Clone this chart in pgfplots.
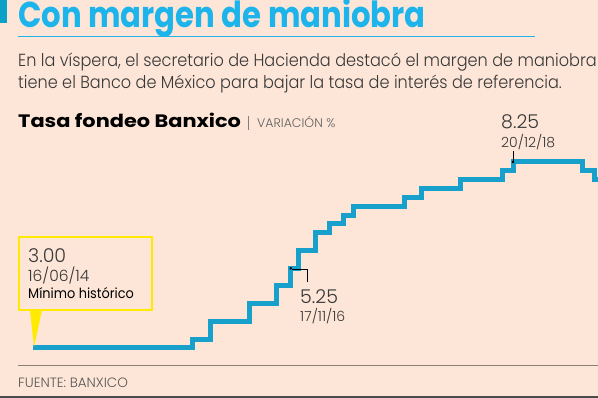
\documentclass[border=0pt]{standalone}
\usepackage{pgfplots}
\pgfplotsset{compat=1.18}
\usepackage{fontspec}
\setmainfont{Poppins}
\newfontfamily\light{Poppins Light}
\definecolor{bg}{HTML}{FDE6D8}
\definecolor{titc}{HTML}{1CB4EA}
\definecolor{barc}{HTML}{0BA0C8}
\definecolor{linec}{HTML}{18A0CC}
\definecolor{txt}{HTML}{383838}
\definecolor{yel}{HTML}{FFEA00}
\begin{document}
\begin{tikzpicture}[x=1pt,y=1pt]
\fill[bg] (0,0) rectangle (598,398);
\clip (0,0) rectangle (598,398);
% header
\fill[barc] (0,398) rectangle (7,375);
\node[anchor=base west,inner sep=0,text=titc,font=\bfseries\fontsize{36}{36}\selectfont] at (18,398-28) {\scalebox{0.853}[1]{Con margen de maniobra}};
\draw[titc,line width=1pt] (18,398-37) -- (535,398-37);
\node[anchor=base west,inner sep=0,text=txt,font=\light\fontsize{17.5}{17.5}\selectfont] at (18,398-67) {\scalebox{0.92}[1]{En la víspera, el secretario de Hacienda destacó el margen de maniobra que}};
\node[anchor=base west,inner sep=0,text=txt,font=\light\fontsize{17.5}{17.5}\selectfont] at (18,398-89) {\scalebox{0.92}[1]{tiene el Banco de México para bajar la tasa de interés de referencia.}};
\node[anchor=base west,inner sep=0,text=black,font=\bfseries\fontsize{18}{18}\selectfont] at (18,398-128) {\scalebox{1.16}[1]{Tasa fondeo Banxico}};
\draw[gray,line width=0.6pt] (248,398-116) -- (248,398-130);
\node[anchor=base west,inner sep=0,text=txt!80,font=\light\fontsize{12.5}{12.5}\selectfont] at (257,398-128) {VARIACIÓN \%};
% chart
\begin{axis}[at={(18pt,38pt)},anchor=south west,scale only axis,
  width=580pt,height=260pt,
  xmin=-51.5,xmax=1939.8,ymin=2.661,ymax=10.0,
  axis lines=none,clip=true]
\addplot[const plot,linec,line width=5pt,line join=miter] coordinates {
(0,3.00) (549,3.25) (611,3.75) (745,4.25) (836,4.75) (885,5.25) (913,5.75)
(969,6.25) (1018,6.50) (1067,6.75) (1102,7.00) (1277,7.25) (1333,7.50)
(1466,7.75) (1613,8.00) (1648,8.25) (1886,8.00) (1928,7.75) (1990,7.75)};
\addplot[only marks,mark=*,mark size=1pt,black] coordinates {(885,5.25) (1648,8.25)};
\end{axis}
% annotations
\draw[black,line width=0.5pt] (292,398-269) -- (307,398-269) -- (307,398-282);
\draw[black,line width=0.5pt] (513,398-163) -- (513,398-151);
\node[anchor=base west,inner sep=0,text=txt,font=\light\fontsize{19}{19}\selectfont] at (300,398-304) {5.25};
\node[anchor=base west,inner sep=0,text=txt,font=\light\fontsize{14}{14}\selectfont] at (300,398-322) {17/11/16};
\node[anchor=base west,inner sep=0,text=txt,font=\light\fontsize{19}{19}\selectfont] at (501,398-129) {8.25};
\node[anchor=base west,inner sep=0,text=txt,font=\light\fontsize{14}{14}\selectfont] at (501,398-148) {20/12/18};
% callout
\fill[yel] (30,398-310) -- (42,398-310) -- (34,398-347) -- cycle;
\draw[yel,line width=2pt] (19,398-237) rectangle (152,398-310);
\node[anchor=base west,inner sep=0,text=txt,font=\light\fontsize{19}{19}\selectfont] at (28,398-263) {3.00};
\node[anchor=base west,inner sep=0,text=txt,font=\light\fontsize{15.5}{15.5}\selectfont] at (28,398-282) {16/06/14};
\node[anchor=base west,inner sep=0,text=black,font=\fontsize{14}{14}\selectfont] at (28,398-299) {\scalebox{0.92}[1]{Mínimo histórico}};
% footer
\draw[gray!80!brown,line width=1pt] (18,398-366) -- (598,398-366);
\node[anchor=base west,inner sep=0,text=txt!85,font=\light\fontsize{13.5}{13.5}\selectfont] at (18,398-388) {FUENTE: BANXICO};
\draw[black!70,line width=1.5pt] (0,1) -- (598,1);
\end{tikzpicture}
\end{document}
